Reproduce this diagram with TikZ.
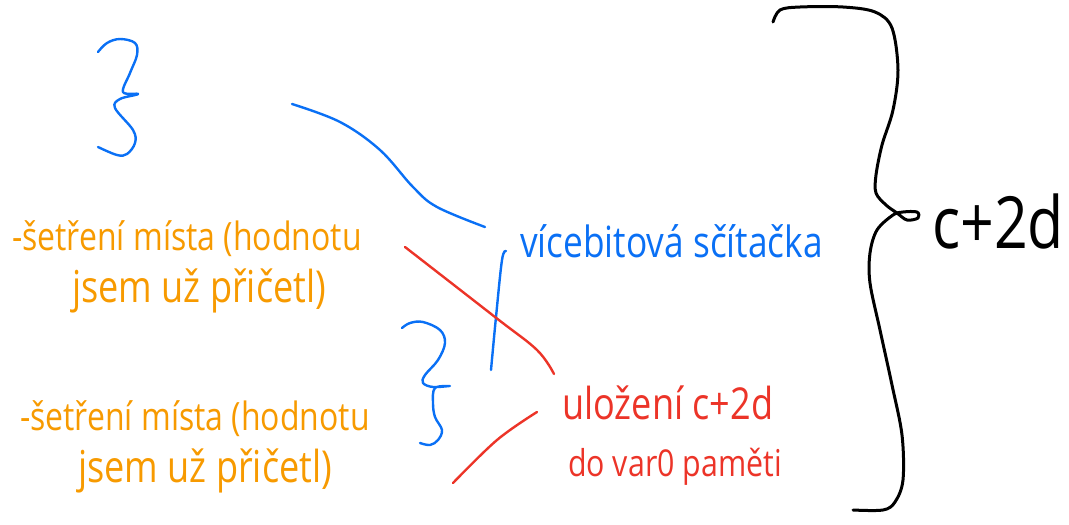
\documentclass[tikz,border=0pt]{standalone}
\usepackage{fontspec}
\newfontfamily\hand[FakeStretch=0.82]{Open Sans}
\definecolor{inkorange}{RGB}{247,154,0}
\definecolor{inkblue}{RGB}{10,112,245}
\definecolor{inkred}{RGB}{236,52,40}
\definecolor{inkblack}{RGB}{0,0,0}
\begin{document}
\begin{tikzpicture}[x=1pt,y=-1pt,
  pen/.style={line width=2.4pt,line cap=round,line join=round},
  thickpen/.style={line width=3pt,line cap=round,line join=round},
  note/.style={anchor=base west,inner sep=0pt,font=\hand\fontsize{#1}{#1}\selectfont},
  note/.default=39]
\useasboundingbox (0,0) rectangle (1069,525);

% orange notes
\node[note,text=inkorange] (o1a) at (12,250) {-šetření místa (hodnotu};
\node[note=44,text=inkorange] (o1b) at (72,302) {jsem už přičetl)};
\node[note,text=inkorange] (o2a) at (20,430) {-šetření místa (hodnotu};
\node[note=44,text=inkorange] (o2b) at (78,482) {jsem už přičetl)};

% blue and red labels
\node[note=43,text=inkblue] (add) at (520,257) {vícebitová sčítačka};
\node[note=44,text=inkred] (st1) at (562,419) {uložení c+2d};
\node[note=37,text=inkred] (st2) at (568,476) {do var0 paměti};

% result
\node[note=72,text=inkblack] (res) at (932,248) {c+2d};

% small blue braces
\draw[pen,inkblue] plot[smooth,tension=0.6] coordinates {
  (98,52) (107,43) (120,39) (135,43) (137,55) (130,73) (123,92)
  (138,94) (120,99) (115,108) (133,130) (135,143) (127,154) (117,155) (98,147)};
\draw[pen,inkblue] plot[smooth,tension=0.6] coordinates {
  (402,328) (410,323) (423,322) (440,330) (445,343) (438,360) (425,375)
  (423,383) (433,387) (450,386) (435,388) (433,403) (435,417) (442,430)
  (438,440) (430,445) (420,443)};

% large black brace
\draw[thickpen,inkblack] plot[smooth,tension=0.55] coordinates {
  (773,22) (780,10) (800,7) (843,7) (875,12) (892,28) (898,70) (893,110)
  (882,145) (876,175) (876,193) (886,205) (897,213) (907,220) (918,218)
  (917,212) (903,212) (893,215) (877,230) (870,253) (870,283) (880,330)
  (892,385) (902,435) (903,480) (895,502) (883,510) (853,510)};

% blue strokes
\draw[pen,inkblue] plot[smooth,tension=0.6] coordinates {
  (292,104) (340,122) (380,150) (413,187) (437,207) (485,227)};
\draw[pen,inkblue] plot[smooth,tension=0.6] coordinates {
  (506,251) (502,260) (496,317) (491,370)};

% red strokes
\draw[pen,inkred] plot[smooth,tension=0.6] coordinates {
  (405,247) (495,317) (537,350) (554,374)};
\draw[pen,inkred] plot[smooth,tension=0.6] coordinates {
  (537,412) (497,440) (453,483)};
\end{tikzpicture}
\end{document}
